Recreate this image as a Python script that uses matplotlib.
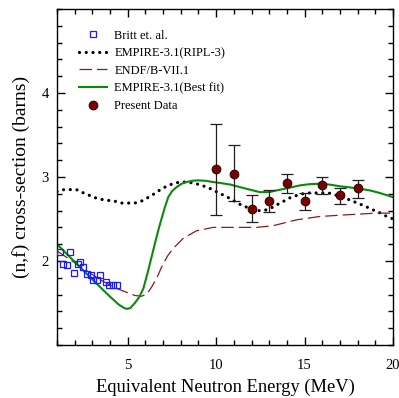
import matplotlib
matplotlib.use("Agg")
import matplotlib.pyplot as plt
from matplotlib.ticker import MultipleLocator

plt.rcParams['font.family'] = ['Liberation Serif', 'DejaVu Serif']
plt.rcParams['mathtext.fontset'] = 'stix'

# Britt et. al.
britt_x = [1.17, 1.73, 1.36, 1.58, 1.96, 2.30, 2.17, 2.49, 2.68, 2.90, 3.05, 3.43, 3.28, 3.77, 3.95, 4.17, 4.37]
britt_y = [2.11, 2.11, 1.96, 1.95, 1.86, 1.99, 1.96, 1.93, 1.84, 1.83, 1.77, 1.83, 1.77, 1.75, 1.71, 1.71, 1.71]

# EMPIRE-3.1 (RIPL-3)
ripl_x = [1.0, 1.4, 1.75, 2.1, 2.5, 2.85, 3.2, 3.6, 3.95, 4.3, 4.65, 5.0, 5.4, 5.75, 6.1, 6.5,
          6.85, 7.2, 7.55, 7.95, 8.3, 8.65, 9.05, 9.45, 9.8, 10.15, 10.55, 10.9, 11.3, 11.6,
          12.0, 12.35, 12.7, 13.1, 13.45, 13.8, 14.15, 14.55, 14.9, 15.25, 15.6, 16.0, 16.35,
          16.7, 17.05, 17.4, 17.75, 18.1, 18.45, 18.85, 19.2, 19.55, 19.9, 20.0]
ripl_y = [2.83, 2.85, 2.85, 2.85, 2.81, 2.78, 2.75, 2.73, 2.72, 2.71, 2.69, 2.69, 2.69, 2.71, 2.75, 2.80,
          2.85, 2.89, 2.92, 2.94, 2.94, 2.93, 2.91, 2.88, 2.85, 2.81, 2.77, 2.73, 2.68, 2.65,
          2.62, 2.60, 2.60, 2.63, 2.67, 2.71, 2.75, 2.78, 2.80, 2.81, 2.81, 2.81, 2.81,
          2.79, 2.76, 2.74, 2.71, 2.68, 2.65, 2.61, 2.58, 2.54, 2.51, 2.50]

# ENDF/B-VII.1
endf_x = [1.0, 2.0, 2.77, 3.5, 4.2, 4.65, 5.03, 5.4, 5.78, 6.1, 6.35, 6.65, 6.92, 7.25, 7.57,
          8.14, 8.89, 9.83, 10.96, 12.28, 13.22, 14.54, 15.86, 17.37, 19.06, 20.0]
endf_y = [2.12, 1.98, 1.87, 1.77, 1.69, 1.65, 1.62, 1.59, 1.58, 1.61, 1.69, 1.80, 1.93, 2.06, 2.15,
          2.27, 2.36, 2.40, 2.40, 2.40, 2.42, 2.49, 2.53, 2.55, 2.57, 2.57]

# EMPIRE-3.1 (Best fit)
best_x = [1.0, 2.0, 3.0, 4.0, 4.5, 4.8, 4.95, 5.15, 5.4, 5.65, 5.88, 6.1, 6.35, 6.55, 6.72, 6.88,
          7.1, 7.29, 7.5, 7.76, 8.05, 8.33, 8.65, 8.98, 9.4, 9.83, 10.2, 10.8, 11.34, 11.9,
          12.47, 13.0, 13.41, 14.1, 14.73, 15.3, 15.86, 16.4, 16.99, 17.6, 18.12, 18.7, 19.25, 20.0]
best_y = [2.20, 1.99, 1.78, 1.575, 1.48, 1.44, 1.43, 1.44, 1.50, 1.57, 1.67, 1.84, 2.05, 2.22, 2.36, 2.48,
          2.64, 2.76, 2.83, 2.88, 2.92, 2.94, 2.955, 2.96, 2.955, 2.94, 2.93, 2.91, 2.88, 2.85,
          2.82, 2.82, 2.84, 2.87, 2.90, 2.915, 2.92, 2.91, 2.89, 2.875, 2.86, 2.84, 2.81, 2.76]

# Present Data
pres_x = [10, 11, 12, 13, 14, 15, 16, 17, 18]
pres_y = [3.10, 3.04, 2.62, 2.71, 2.93, 2.71, 2.91, 2.78, 2.87]
pres_hi = [3.63, 3.38, 2.79, 2.84, 3.04, 2.81, 3.00, 2.87, 2.97]
pres_lo = [2.55, 2.72, 2.46, 2.58, 2.81, 2.61, 2.80, 2.68, 2.75]

fig = plt.figure(figsize=(3.99, 3.98), dpi=100)
ax = fig.add_axes([57/399, 1-345/398, (393-57)/399, (345-9)/398])

ax.plot(britt_x, britt_y, linestyle='none', marker='s', markersize=4.6,
        markerfacecolor='none', markeredgecolor='#1a1aff', markeredgewidth=0.9,
        label='Britt et. al.', zorder=3)
ax.plot(ripl_x, ripl_y, color='black', linewidth=2.3, linestyle=(0, (0.01, 2.1)),
        dash_capstyle='round', label='EMPIRE-3.1(RIPL-3)', zorder=2)
ax.plot(endf_x, endf_y, color='#8b1a1a', linewidth=0.9, linestyle=(0, (10, 4)),
        label='ENDF/B-VII.1', zorder=2)
ax.plot(best_x, best_y, color='#0a8a0a', linewidth=1.5, label='EMPIRE-3.1(Best fit)', zorder=2)

yerr = [[y - l for y, l in zip(pres_y, pres_lo)], [h - y for y, h in zip(pres_y, pres_hi)]]
ax.errorbar(pres_x, pres_y, yerr=yerr, fmt='none', ecolor='#202020', elinewidth=0.9,
            capsize=4, capthick=0.9, zorder=4)
ax.plot(pres_x, pres_y, linestyle='none', marker='o', markersize=6.3,
        markerfacecolor='#7a0000', markeredgecolor='#2a0000', markeredgewidth=0.7,
        label='Present Data', zorder=5)

ax.set_xlim(1, 20)
ax.set_ylim(1, 5)
ax.xaxis.set_minor_locator(MultipleLocator(1))
ax.yaxis.set_minor_locator(MultipleLocator(0.2))
ax.set_yticks([2, 3, 4])
ax.set_xticks([5, 10, 15, 20])
ax.tick_params(which='both', direction='in', top=True, right=True, labelsize=10.5, width=1.0)
ax.tick_params(which='major', length=6)
ax.tick_params(which='minor', length=3.5)
ax.tick_params(axis='x', which='major', pad=10)
ax.tick_params(axis='y', which='major', pad=6)
for sp in ax.spines.values():
    sp.set_linewidth(1.0)

ax.set_xlabel('Equivalent Neutron Energy (MeV)', fontsize=13.3, labelpad=5)
ax.set_ylabel('(n,f) cross-section (barns)', fontsize=14, labelpad=8)

ax.legend(loc='upper left', bbox_to_anchor=(0.04, 0.965), frameon=False, fontsize=9,
          handlelength=2.2, handletextpad=0.6, labelspacing=0.45, borderaxespad=0.3)

fig.savefig('out.png', dpi=100)
